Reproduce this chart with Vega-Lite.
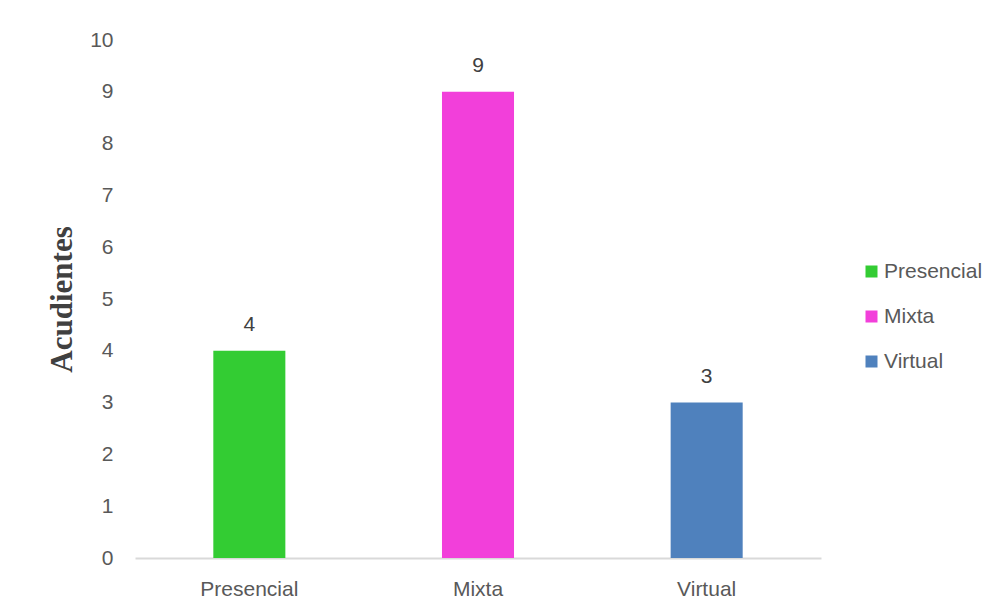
{
  "$schema": "https://vega.github.io/schema/vega-lite/v6.json",
  "autosize": "none",
  "width": 686,
  "height": 518,
  "padding": {"left": 135, "top": 40, "right": 178, "bottom": 55},
  "background": "white",
  "config": {"view": {"stroke": null}, "font": "Liberation Sans"},
  "data": {"values": [
    {"modalidad": "Presencial", "acudientes": 4},
    {"modalidad": "Mixta", "acudientes": 9},
    {"modalidad": "Virtual", "acudientes": 3}
  ]},
  "encoding": {
    "x": {"field": "modalidad", "type": "nominal", "sort": ["Presencial", "Mixta", "Virtual"],
      "scale": {"paddingInner": 0.685, "paddingOuter": 0.3425},
      "axis": {"title": null, "labelAngle": 0, "labelFontSize": 21, "labelColor": "#595959", "labelPadding": 20, "ticks": false, "domainColor": "#D9D9D9", "domainWidth": 2}},
    "y": {"field": "acudientes", "type": "quantitative",
      "scale": {"domain": [0, 10]},
      "axis": {"title": "Acudientes", "titleFont": "Liberation Serif", "titleFontSize": 31, "titleFontWeight": "bold", "titleColor": "#404040", "titlePadding": 11, "values": [0,1,2,3,4,5,6,7,8,9,10], "labelOverlap": false, "labelBound": false, "labelFontSize": 21, "labelColor": "#595959", "labelPadding": 22, "ticks": false, "domain": false, "grid": false}}
  },
  "layer": [
    {"mark": {"type": "bar"},
      "encoding": {"color": {"field": "modalidad", "type": "nominal", "sort": ["Presencial", "Mixta", "Virtual"],
        "scale": {"domain": ["Presencial", "Mixta", "Virtual"], "range": ["#33CC33", "#F23FDA", "#4F81BD"]},
        "legend": {"title": null, "orient": "none", "legendX": 726, "legendY": 221, "symbolType": "square", "symbolSize": 144, "symbolStrokeWidth": 0, "symbolOpacity": 1, "labelFontSize": 21, "labelColor": "#595959", "labelOffset": 2, "rowPadding": 23}}}},
    {"mark": {"type": "text", "dy": -26, "fontSize": 21, "color": "#404040", "baseline": "middle"},
      "encoding": {"text": {"field": "acudientes", "type": "quantitative"}}}
  ]
}
